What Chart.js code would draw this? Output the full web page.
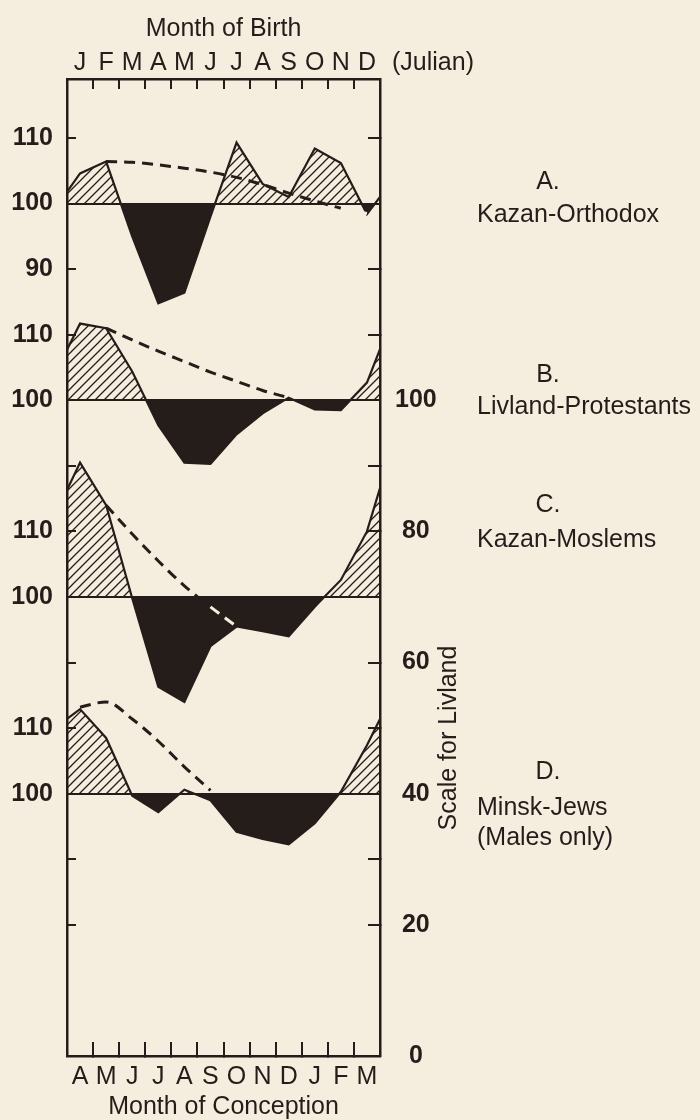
<!DOCTYPE html>
<html>
<head>
<meta charset="utf-8">
<title>Month of Birth / Month of Conception</title>
<script src="https://cdn.jsdelivr.net/npm/chart.js@4.4.1/dist/chart.umd.min.js"></script>
<style>
  body { margin: 0; background: #f5eedf; }
  canvas { display: block; }
</style>
</head>
<body>
<canvas id="seasonChart" width="700" height="1120"></canvas>
<script>
// month letters on the two horizontal axes
const birthMonths = ['J', 'F', 'M', 'A', 'M', 'J', 'J', 'A', 'S', 'O', 'N', 'D'];
const conceptionMonths = ['A', 'M', 'J', 'J', 'A', 'S', 'O', 'N', 'D', 'J', 'F', 'M'];

// index values: where the curve meets the left frame, Jan..Dec (birth), where it meets the right frame
const kazanOrthodox = [101.8, 104.6, 106.4, 95.0, 84.8, 86.4, 98.0, 109.3, 103.0, 101.0, 108.4, 106.2, 98.4, 101.0];
const livlandProtestants = [107.7, 111.7, 111.0, 104.4, 96.2, 90.5, 90.3, 94.8, 98.0, 100.4, 98.6, 98.5, 102.7, 107.8];
const kazanMoslems = [116.3, 120.5, 114.0, 99.8, 86.3, 84.0, 92.5, 95.5, 94.8, 94.0, 98.5, 102.6, 110.0, 116.6];
const minskJews = [111.4, 112.9, 108.5, 99.7, 97.2, 100.6, 99.0, 94.2, 93.1, 92.3, 95.5, 100.3, 107.4, 111.4];

// dashed trend curves, same positions (null = not drawn)
const kazanOrthodoxTrend = [null, null, 106.4, 106.3, 105.9, 105.4, 104.8, 104.0, 102.9, 101.6, 100.4, 99.3, 98.5, null];
const livlandTrend = [null, null, 111.0, 109.2, 107.5, 105.9, 104.3, 102.9, 101.5, 100.4, null, null, null, null];
const moslemsTrend = [null, null, 114.0, 109.6, 105.5, 101.7, 98.5, 95.5, null, null, null, null, null, null];
const minskTrend = [null, 113.2, 114.0, 111.4, 108.0, 104.1, 100.5, null, null, null, null, null, null, null];

// tick labels
const panelTicks = [[110, 100, 90], [110, 100], [110, 100], [110, 100]];
const livlandLabels = [100, 80, 60, 40, 20, 0];
const frameTicks = [140, 120, 110, 90, 80, 60, 50, 30, 20];   // small marks on both frame sides (Livland scale)
const panelLetters = ['A.', 'B.', 'C.', 'D.'];
const panelNames = [['Kazan-Orthodox'], ['Livland-Protestants'], ['Kazan-Moslems'], ['Minsk-Jews', '(Males only)']];

const INK = '#241d1a';
const PAPER = '#f5eedf';
const FONT = "'Liberation Sans', Arial, sans-serif";
const FS = 25;
const LIV_MAX = 149;
const NONE = 'rgba(0,0,0,0)';

// x positions: frame edge, month centres, frame edge
const xPos = [0].concat(birthMonths.map((m, i) => i + 0.5), [12]);

function hatchPattern() {
    const c = document.createElement('canvas');
    c.width = 9;
    c.height = 9;
    const g = c.getContext('2d');
    g.strokeStyle = INK;
    g.lineWidth = 1.3;
    g.beginPath();
    g.moveTo(-1, 10); g.lineTo(10, -1);
    g.moveTo(-1, 1); g.lineTo(1, -1);
    g.moveTo(8, 10); g.lineTo(10, 8);
    g.stroke();
    return g.createPattern(c, 'repeat');
}
const hatch = hatchPattern();

// shift = where index 100 sits on the Livland scale, minus 100
const panels = [
    { id: 'yA', shift: 30, line: kazanOrthodox, trend: kazanOrthodoxTrend },
    { id: 'yB', shift: 0, line: livlandProtestants, trend: livlandTrend },
    { id: 'yC', shift: -30, line: kazanMoslems, trend: moslemsTrend },
    { id: 'yD', shift: -60, line: minskJews, trend: minskTrend }
];

const toPoints = arr => arr.map((v, i) => ({ x: xPos[i], y: v }));

const datasets = [];
panels.forEach(p => {
    datasets.push({
        data: toPoints(p.trend),
        yAxisID: p.id,
        borderColor: INK,
        borderWidth: 3,
        borderDash: [11, 7],
        cubicInterpolationMode: 'monotone',
        pointRadius: 0,
        fill: false,
        // where the trend runs inside the black area it shows light
        segment: {
            borderColor: ctx => (ctx.p0.parsed.y < 100 && ctx.p1.parsed.y < 100) ? PAPER : INK
        }
    });
});
panels.forEach(p => {
    datasets.push({
        data: toPoints(p.line),
        yAxisID: p.id,
        borderColor: INK,
        borderWidth: 2.2,
        tension: 0,
        pointRadius: 0,
        fill: { target: { value: 100 }, above: hatch, below: INK }
    });
});

function monthTicks(axis) {
    const t = [];
    for (let i = 0; i <= 12; i++) {
        t.push({ value: i });
        if (i < 12) t.push({ value: i + 0.5 });
    }
    axis.ticks = t;
}
const boundaryMark = ctx => {
    const v = ctx.tick.value;
    return Number.isInteger(v) && v > 0 && v < 12 ? INK : NONE;
};
const frameMark = ctx => frameTicks.includes(ctx.tick.value) ? INK : NONE;

// left labels belong to the panels; find which panel a Livland value falls on
function panelLabel(v) {
    for (let i = 0; i < panels.length; i++) {
        const local = v - panels[i].shift;
        if (panelTicks[i].includes(local)) return String(local);
    }
    return '';
}
const leftTickValues = Array.from(new Set(frameTicks.concat(
    panels.flatMap((p, i) => panelTicks[i].map(t => t + p.shift))
)));
const rightTickValues = Array.from(new Set(frameTicks.concat(livlandLabels)));

const scales = {
    x: {
        type: 'linear', position: 'bottom', min: 0, max: 12,
        afterBuildTicks: monthTicks,
        afterFit: s => { s.height = 64; },
        ticks: {
            autoSkip: false, maxRotation: 0, padding: 20,
            font: { size: FS, lineHeight: 1.2 },
            callback: v => Number.isInteger(v) ? '' : conceptionMonths[Math.floor(v)]
        },
        grid: { drawOnChartArea: false, tickLength: -14, lineWidth: 2, color: boundaryMark },
        border: { color: INK, width: 2.5 },
        title: { display: true, text: 'Month of Conception', font: { size: FS, lineHeight: 1 }, padding: { top: 0, bottom: 0 } }
    },
    x2: {
        type: 'linear', position: 'top', min: 0, max: 12,
        afterBuildTicks: monthTicks,
        afterFit: s => { s.height = 79; },
        ticks: {
            autoSkip: false, maxRotation: 0, padding: 11,
            font: { size: FS, lineHeight: 1.2 },
            callback: v => Number.isInteger(v) ? '' : birthMonths[Math.floor(v)]
        },
        grid: { drawOnChartArea: false, tickLength: -10, lineWidth: 2, color: boundaryMark },
        border: { color: INK, width: 2.5 },
        title: { display: true, text: 'Month of Birth', font: { size: FS, lineHeight: 1 }, padding: { top: 17, bottom: 0 } }
    },
    yL: {
        type: 'linear', position: 'left', min: 0, max: LIV_MAX, weight: 10,
        afterBuildTicks: a => { a.ticks = leftTickValues.map(v => ({ value: v })); },
        afterFit: s => { s.width = 67; },
        ticks: { autoSkip: false, padding: 23, font: { size: FS, weight: 'bold' }, callback: v => panelLabel(v) },
        grid: { drawOnChartArea: false, tickLength: -9, lineWidth: 2, color: frameMark },
        border: { color: INK, width: 2.5 }
    },
    yR: {
        type: 'linear', position: 'right', min: 0, max: LIV_MAX,
        afterBuildTicks: a => { a.ticks = rightTickValues.map(v => ({ value: v })); },
        afterFit: s => { s.width = 320; },
        ticks: {
            autoSkip: false, padding: 27, crossAlign: 'center',
            font: { size: FS, weight: 'bold' },
            callback: v => livlandLabels.includes(v) ? String(v) : ''
        },
        grid: { drawOnChartArea: false, tickLength: -12, lineWidth: 2, color: frameMark },
        border: { color: INK, width: 2.5 }
    }
};

// one hidden scale per panel: it only draws the 100 baseline
panels.forEach(p => {
    scales[p.id] = {
        type: 'linear', position: 'left',
        min: 0 - p.shift, max: LIV_MAX - p.shift,
        afterBuildTicks: a => { a.ticks = [{ value: 100 }]; },
        afterFit: s => { s.width = 0; },
        ticks: { display: false },
        grid: { drawTicks: false, lineWidth: 2, color: INK },
        border: { display: false }
    };
});

const paperAndText = {
    id: 'paperAndText',
    beforeDraw(chart) {
        const ctx = chart.ctx;
        ctx.save();
        ctx.fillStyle = PAPER;
        ctx.fillRect(0, 0, chart.width, chart.height);
        ctx.restore();
    },
    afterDraw(chart) {
        const ctx = chart.ctx;
        const top = chart.scales.x2;
        const right = chart.scales.yR;
        ctx.save();
        ctx.fillStyle = INK;
        ctx.font = FS + 'px ' + FONT;
        ctx.textBaseline = 'middle';

        ctx.textAlign = 'left';
        ctx.fillText('(Julian)', top.right + 12, top.bottom - 16);

        // panel captions, placed on the Livland scale
        const letterAt = [133.3, 103.9, 84.0, 43.3];
        const nameAt = [128.3, 99.0, 78.7, 37.8];
        panelLetters.forEach((letter, i) => {
            ctx.textAlign = 'center';
            ctx.fillText(letter, right.left + 168, right.getPixelForValue(letterAt[i]));
            ctx.textAlign = 'left';
            panelNames[i].forEach((line, k) => {
                ctx.fillText(line, right.left + 97, right.getPixelForValue(nameAt[i]) + k * 30);
            });
        });

        // rotated axis title
        ctx.translate(right.left + 69, right.getPixelForValue(48.5));
        ctx.rotate(-Math.PI / 2);
        ctx.textAlign = 'center';
        ctx.fillText('Scale for Livland', 0, 0);
        ctx.restore();
    }
};

Chart.defaults.font.family = FONT;
Chart.defaults.color = INK;

new Chart(document.getElementById('seasonChart').getContext('2d'), {
    type: 'line',
    data: { datasets: datasets },
    options: {
        responsive: false,
        animation: false,
        devicePixelRatio: 1,
        layout: { padding: 0 },
        plugins: { legend: { display: false }, tooltip: { enabled: false } },
        scales: scales
    },
    plugins: [paperAndText]
});
</script>
</body>
</html>
